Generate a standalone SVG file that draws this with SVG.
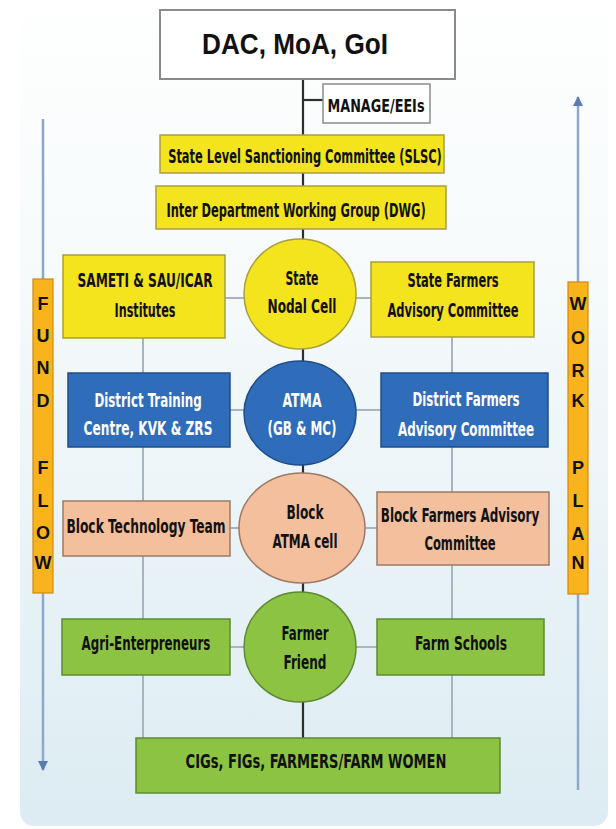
<svg xmlns="http://www.w3.org/2000/svg" width="616" height="829" viewBox="0 0 616 829">
<defs>
<linearGradient id="bg" x1="0" y1="0" x2="0" y2="1">
<stop offset="0" stop-color="#ffffff"/>
<stop offset="0.35" stop-color="#f6fafb"/>
<stop offset="1" stop-color="#dcecf2"/>
</linearGradient>
<marker id="ah" viewBox="0 0 10 10" refX="9" refY="5" markerWidth="4" markerHeight="4" orient="auto-start-reverse" markerUnits="strokeWidth">
<path d="M0,0 L10,5 L0,10 z" fill="#5a7ab0"/>
</marker>
<style>
text{font-family:"Liberation Sans Narrow","DejaVu Sans Condensed","Liberation Sans",Arial,sans-serif;font-weight:bold;fill:#111;text-anchor:middle;}
.w{fill:#ffffff;}
.yel{fill:#f4e41e;stroke:#a99f3c;stroke-width:1.5;}
.blu{fill:#2f6cb9;stroke:#1f4c8a;stroke-width:1.5;}
.pch{fill:#f3bf9c;stroke:#9b7a66;stroke-width:1.5;}
.grn{fill:#8cc343;stroke:#5f8a35;stroke-width:1.5;}
.bar{fill:#f8b31d;stroke:#d08a10;stroke-width:1.2;}
.thin{stroke:#a7b4c2;stroke-width:2;fill:none;}
.main{stroke:#2e2e2e;stroke-width:2.2;fill:none;}
.arr{stroke:#8ea8cc;stroke-width:2.5;fill:none;}
.let{font-family:"Liberation Sans",Arial,sans-serif;font-size:18px;}
.t{font-size:19px;}
</style>
</defs>
<rect x="0" y="0" width="616" height="829" fill="#ffffff"/>
<rect x="20" y="-20" width="588" height="846" rx="14" fill="url(#bg)"/>

<g id="connectors">
<line class="main" x1="303" y1="79" x2="303" y2="738"/>
<line class="main" x1="303" y1="100" x2="323" y2="100"/>
<line class="thin" x1="143" y1="338" x2="143" y2="738"/>
<line class="thin" x1="452" y1="337" x2="452" y2="738"/>
<line class="thin" x1="225" y1="298" x2="245" y2="298"/>
<line class="thin" x1="356" y1="298" x2="371" y2="298"/>
<line class="thin" x1="230" y1="410" x2="245" y2="410"/>
<line class="thin" x1="356" y1="410" x2="381" y2="410"/>
<line class="thin" x1="230" y1="528" x2="240" y2="528"/>
<line class="thin" x1="365" y1="528" x2="377" y2="528"/>
<line class="thin" x1="230" y1="647" x2="245" y2="647"/>
<line class="thin" x1="356" y1="647" x2="377" y2="647"/>
<line class="arr" x1="43" y1="119" x2="43" y2="279"/>
<line class="arr" x1="43" y1="593" x2="43" y2="770" marker-end="url(#ah)"/>
<line class="arr" x1="578" y1="790" x2="578" y2="594"/>
<line class="arr" x1="578" y1="282" x2="578" y2="97" marker-end="url(#ah)"/>
</g>

<g id="dac">
<rect x="160" y="10" width="295" height="69" fill="#ffffff" stroke="#8a8a8a" stroke-width="2"/>
<text x="295" y="54" style="font-family:'Liberation Sans',Arial,sans-serif;font-size:30px" textLength="186" lengthAdjust="spacingAndGlyphs">DAC, MoA, GoI</text>
</g>
<g id="manage">
<rect x="323" y="84" width="107" height="39" fill="#ffffff" stroke="#8a8a8a" stroke-width="1.5"/>
<text x="376" y="112" style="font-size:17px" textLength="97" lengthAdjust="spacingAndGlyphs">MANAGE/EEIs</text>
</g>
<g id="slsc">
<rect class="yel" x="160" y="135" width="284" height="38"/>
<text class="t" transform="translate(305,163) scale(0.8,1)" textLength="342" lengthAdjust="spacingAndGlyphs">State Level Sanctioning Committee (SLSC)</text>
</g>
<g id="dwg">
<rect class="yel" x="156" y="186" width="290" height="43"/>
<text class="t" transform="translate(296,217) scale(0.8,1)" textLength="324" lengthAdjust="spacingAndGlyphs">Inter Department Working Group (DWG)</text>
</g>

<g id="sameti">
<rect class="yel" x="63" y="255" width="162" height="83"/>
<text class="t" transform="translate(145,287) scale(0.8,1)" textLength="169" lengthAdjust="spacingAndGlyphs">SAMETI &amp; SAU/ICAR</text>
<text class="t" transform="translate(145,317) scale(0.8,1)" textLength="76" lengthAdjust="spacingAndGlyphs">Institutes</text>
</g>
<g id="state-nodal">
<ellipse class="yel" cx="300" cy="294" rx="56" ry="55"/>
<text class="t" x="302" y="285" textLength="33" lengthAdjust="spacingAndGlyphs">State</text>
<text class="t" x="302" y="313" textLength="69" lengthAdjust="spacingAndGlyphs">Nodal Cell</text>
</g>
<g id="state-farmers">
<rect class="yel" x="371" y="262" width="163" height="75"/>
<text class="t" transform="translate(453,287) scale(0.8,1)" textLength="114" lengthAdjust="spacingAndGlyphs">State Farmers</text>
<text class="t" transform="translate(453,317) scale(0.8,1)" textLength="164" lengthAdjust="spacingAndGlyphs">Advisory Committee</text>
</g>

<g id="district-training">
<rect class="blu" x="68" y="373" width="162" height="74"/>
<text class="t w" transform="translate(148,407) scale(0.8,1)" textLength="134" lengthAdjust="spacingAndGlyphs">District Training</text>
<text class="t w" transform="translate(148,435) scale(0.8,1)" textLength="161" lengthAdjust="spacingAndGlyphs">Centre, KVK &amp; ZRS</text>
</g>
<g id="atma">
<ellipse class="blu" cx="300" cy="413" rx="56" ry="52"/>
<text class="t w" x="302" y="407" textLength="39" lengthAdjust="spacingAndGlyphs">ATMA</text>
<text class="t w" x="302" y="435" textLength="69" lengthAdjust="spacingAndGlyphs">(GB &amp; MC)</text>
</g>
<g id="district-farmers">
<rect class="blu" x="381" y="373" width="167" height="74"/>
<text class="t w" transform="translate(466,406) scale(0.8,1)" textLength="134" lengthAdjust="spacingAndGlyphs">District Farmers</text>
<text class="t w" transform="translate(466,436) scale(0.8,1)" textLength="170" lengthAdjust="spacingAndGlyphs">Advisory Committee</text>
</g>

<g id="block-tech">
<rect class="pch" x="63" y="501" width="167" height="55"/>
<text class="t" transform="translate(146,533) scale(0.8,1)" textLength="199" lengthAdjust="spacingAndGlyphs">Block Technology Team</text>
</g>
<g id="block-atma">
<ellipse class="pch" cx="302" cy="528" rx="63" ry="55"/>
<text class="t" x="305" y="519" textLength="37" lengthAdjust="spacingAndGlyphs">Block</text>
<text class="t" x="305" y="548" textLength="65" lengthAdjust="spacingAndGlyphs">ATMA cell</text>
</g>
<g id="block-farmers">
<rect class="pch" x="377" y="492" width="172" height="73"/>
<text class="t" transform="translate(460,522) scale(0.8,1)" textLength="198" lengthAdjust="spacingAndGlyphs">Block Farmers Advisory</text>
<text class="t" transform="translate(460,550) scale(0.8,1)" textLength="89" lengthAdjust="spacingAndGlyphs">Committee</text>
</g>

<g id="agri">
<rect class="grn" x="62" y="619" width="168" height="56"/>
<text class="t" transform="translate(146,650) scale(0.8,1)" textLength="161" lengthAdjust="spacingAndGlyphs">Agri-Enterpreneurs</text>
</g>
<g id="farmer-friend">
<ellipse class="grn" cx="300" cy="647" rx="56" ry="55"/>
<text class="t" x="305" y="640" textLength="47" lengthAdjust="spacingAndGlyphs">Farmer</text>
<text class="t" x="305" y="669" textLength="43" lengthAdjust="spacingAndGlyphs">Friend</text>
</g>
<g id="farm-schools">
<rect class="grn" x="377" y="619" width="167" height="56"/>
<text class="t" transform="translate(461,650) scale(0.8,1)" textLength="115" lengthAdjust="spacingAndGlyphs">Farm Schools</text>
</g>
<g id="cigs">
<rect class="grn" x="136" y="738" width="364" height="55"/>
<text class="t" transform="translate(316,768) scale(0.8,1)" textLength="326" lengthAdjust="spacingAndGlyphs">CIGs, FIGs, FARMERS/FARM WOMEN</text>
</g>

<g id="fund-flow">
<rect class="bar" x="33" y="279" width="20" height="314"/>
<text class="let" x="43" y="310">F</text>
<text class="let" x="43" y="342">U</text>
<text class="let" x="43" y="374">N</text>
<text class="let" x="43" y="407">D</text>
<text class="let" x="43" y="474">F</text>
<text class="let" x="43" y="507">L</text>
<text class="let" x="43" y="539">O</text>
<text class="let" x="43" y="569">W</text>
</g>
<g id="work-plan">
<rect class="bar" x="568" y="282" width="20" height="312"/>
<text class="let" x="578" y="310">W</text>
<text class="let" x="578" y="344">O</text>
<text class="let" x="578" y="377">R</text>
<text class="let" x="578" y="407">K</text>
<text class="let" x="578" y="474">P</text>
<text class="let" x="578" y="507">L</text>
<text class="let" x="578" y="540">A</text>
<text class="let" x="578" y="569">N</text>
</g>
</svg>
